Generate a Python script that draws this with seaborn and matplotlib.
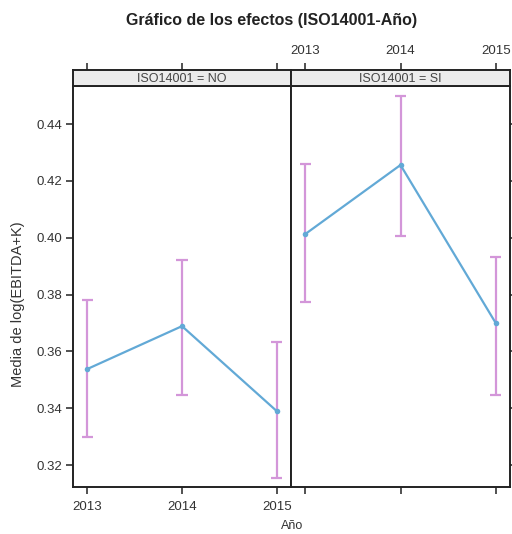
import matplotlib
matplotlib.use("Agg")
import matplotlib.pyplot as plt
import pandas as pd
import seaborn as sns

years = [2013, 2014, 2015]
groups = ["NO", "SI"]
mean_no = [0.3538, 0.3689, 0.3390]
lower_no = [0.3299, 0.3446, 0.3154]
upper_no = [0.3780, 0.3921, 0.3633]
mean_si = [0.4013, 0.4256, 0.3700]
lower_si = [0.3774, 0.4006, 0.3446]
upper_si = [0.4259, 0.4498, 0.3932]

df = pd.DataFrame({
    "year": years * 2,
    "group": ["NO"] * 3 + ["SI"] * 3,
    "mean": mean_no + mean_si,
    "lower": lower_no + lower_si,
    "upper": upper_no + upper_si,
})

sns.set_theme(style="white")
plt.rcParams["font.family"] = ["Liberation Sans", "DejaVu Sans"]

line_color = "#62a9d6"
err_color = "#d396d9"
tick_color = "#333333"
lab_size = 9.5

fig = plt.figure(figsize=(5.12, 5.34), dpi=100)
H = 534.0
W = 512.0
panels = [(73, 218), (291, 219)]
xlim = (2012.85, 2015.15)
ylim = (0.3123, 0.4534)
cap = 0.06

for i, (grp, (x0, w)) in enumerate(zip(groups, panels)):
    sub = df[df["group"] == grp]
    ax = fig.add_axes([x0 / W, (H - 487) / H, w / W, (487 - 86) / H])
    ax.vlines(sub["year"], sub["lower"], sub["upper"], color=err_color, lw=1.6, zorder=2)
    ax.hlines(sub["lower"], sub["year"] - cap, sub["year"] + cap, color=err_color, lw=1.6, zorder=2)
    ax.hlines(sub["upper"], sub["year"] - cap, sub["year"] + cap, color=err_color, lw=1.6, zorder=2)
    sns.lineplot(data=sub, x="year", y="mean", ax=ax, color=line_color, lw=1.6,
                 marker="o", markersize=4, markeredgewidth=0, zorder=3)
    ax.set_xlim(*xlim)
    ax.set_ylim(*ylim)
    ax.set_xticks(years)
    ax.set_yticks([0.32, 0.34, 0.36, 0.38, 0.40, 0.42, 0.44])
    ax.set_xlabel("")
    ax.set_ylabel("")
    for s in ax.spines.values():
        s.set_color("#222222")
        s.set_linewidth(1.4)
    if i == 0:
        ax.tick_params(axis="x", bottom=True, labelbottom=True, direction="out", length=5,
                       width=1.2, labelsize=lab_size, colors=tick_color, pad=5)
        ax.tick_params(axis="y", left=True, labelleft=True, direction="out", length=5,
                       width=1.2, labelsize=lab_size, colors=tick_color, pad=3)
        ax.set_xticklabels([str(y) for y in years])
        ax.set_yticklabels(["0.32", "0.34", "0.36", "0.38", "0.40", "0.42", "0.44"])
    else:
        ax.tick_params(axis="x", bottom=True, labelbottom=False, direction="out", length=5,
                       width=1.2, colors=tick_color)
        ax.tick_params(axis="y", left=False, labelleft=False, right=True, labelright=False,
                       direction="out", length=5, width=1.2, colors=tick_color)

    strip = fig.add_axes([x0 / W, (H - 86) / H, w / W, 16 / H])
    strip.set_facecolor("#ececec")
    strip.set_xlim(*xlim)
    strip.set_ylim(0, 1)
    strip.set_yticks([])
    strip.set_xticks(years)
    strip.tick_params(axis="x", bottom=False, labelbottom=False, top=True,
                      labeltop=(i == 1), direction="out", length=5, width=1.2,
                      labelsize=lab_size, colors=tick_color, pad=4)
    if i == 1:
        strip.set_xticklabels([str(y) for y in years])
    for s in strip.spines.values():
        s.set_color("#222222")
        s.set_linewidth(1.4)
    strip.text(0.5, 0.45, f"ISO14001 = {grp}", transform=strip.transAxes,
               ha="center", va="center", fontsize=9, color="#444444")

fig.text(272 / W, 1 - 21 / H, "Gráfico de los efectos (ISO14001-Año)", ha="center",
         va="center", fontsize=11.5, fontweight="bold", color="#222222")
fig.text(18 / W, 1 - 304 / H, "Media de log(EBITDA+K)", rotation=90, ha="center",
         va="center", fontsize=10.5, color="#333333")
fig.text(292 / W, 1 - 526 / H, "Año", ha="center", va="center", fontsize=9,
         color="#333333")

fig.savefig("out.png", dpi=100)
